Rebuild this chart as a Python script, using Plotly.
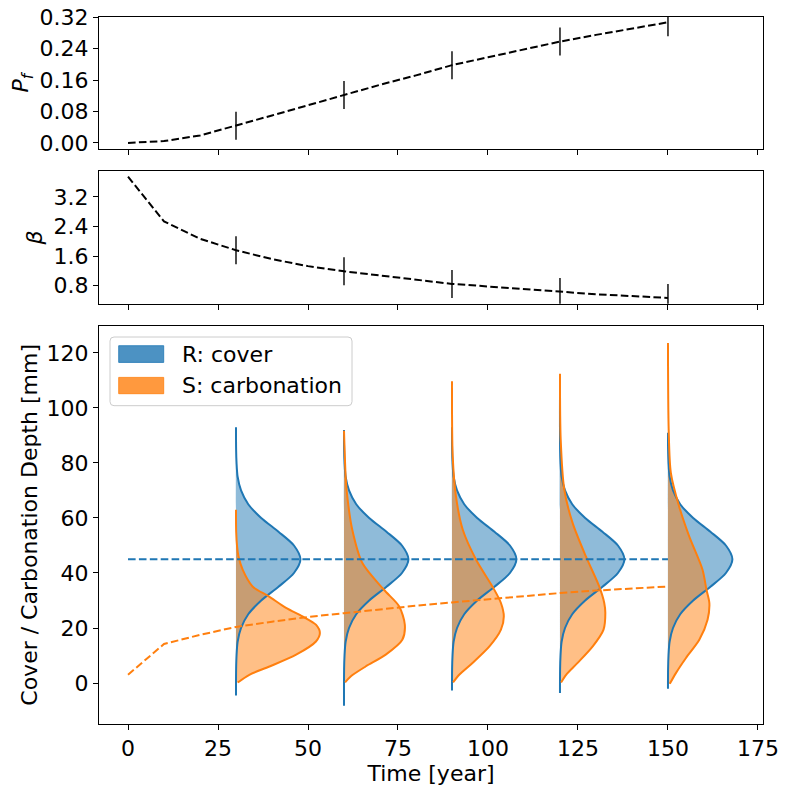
import plotly.graph_objects as go
from plotly.subplots import make_subplots

# ---------------- data ----------------
TIME = [0, 10, 20, 30, 40, 50, 60, 70, 80, 90, 100, 110, 120, 130, 140, 150]
PF = [0.0001, 0.005, 0.019, 0.044, 0.070, 0.096, 0.122, 0.148, 0.172, 0.198,
      0.218, 0.238, 0.258, 0.275, 0.291, 0.307]
BETA = [3.75, 2.54, 2.07, 1.76, 1.52, 1.33, 1.19, 1.07, 0.97, 0.85,
        0.78, 0.71, 0.63, 0.57, 0.52, 0.47]
R_MEAN = [45, 45, 45, 45, 45, 45, 45, 45, 45, 45, 45, 45, 45, 45, 45, 45]
S_MEAN = [3.0, 14.2, 17.5, 20.4, 22.3, 24.0, 25.4, 26.8, 28.1, 29.3,
          30.5, 31.6, 32.7, 33.6, 34.4, 35.1]

MARK_T = [30, 60, 90, 120, 150]

# R: cover density profile (depth [mm], scaled density width [year units])
R_Y = [5, 10, 15, 20, 25, 30, 35, 40, 45, 50, 55, 60, 65, 70, 75, 80, 85]
R_W = [0.03, 0.15, 0.45, 1.4, 3.4, 7.0, 11.8, 16.1, 17.9, 16.1, 11.8, 7.0,
       3.4, 1.4, 0.45, 0.15, 0.03]
R_BOTTOM = [-4.5, -8.3, -2.7, -3.6, -2.1]
R_TOP = [93, 92, 93, 106, 91]

# S: carbonation density profiles per time
S_Y = {
    30: [0.2, 3.0, 6.0, 10.3, 15.1, 18.2, 21.2, 24.2, 27.3, 31.5, 35.1, 41.2, 46.0, 49.7, 55.0, 63.0],
    60: [0.2, 2.4, 6.0, 10.3, 15.7, 21.2, 27.9, 33.9, 43.6, 55.7, 67.9, 74.0, 91.7],
    90: [0.2, 3.0, 7.3, 13.3, 19.4, 24.2, 29.1, 34.5, 44.8, 55.7, 67.9, 82.4, 109.7],
    120: [0.2, 3.0, 7.3, 13.3, 19.4, 25.5, 29.1, 35.1, 46.0, 58.2, 70.3, 88.5, 112.4],
    150: [-0.3, 3.6, 9.1, 15.7, 23.0, 29.1, 33.9, 41.2, 53.3, 64.2, 76.4, 92.1, 123.6],
}
S_W = {
    30: [0.5, 3.7, 9.3, 16.7, 22.2, 23.3, 22.2, 18.5, 13.9, 9.1, 4.6, 1.85, 0.7, 0.3, 0.05, 0.0],
    60: [0.3, 1.85, 6.0, 11.6, 16.2, 16.9, 15.3, 11.1, 5.1, 2.3, 0.9, 0.5, 0.0],
    90: [0.3, 2.0, 5.7, 10.4, 13.6, 14.4, 13.6, 11.5, 6.7, 3.0, 1.1, 0.2, 0.0],
    120: [0.3, 1.7, 4.9, 9.1, 12.1, 12.6, 12.3, 10.9, 7.2, 3.5, 1.2, 0.2, 0.0],
    150: [0.5, 2.2, 5.0, 8.7, 11.0, 11.5, 10.7, 9.6, 5.9, 3.1, 0.8, 0.2, 0.0],
}

X_TICKS = [0, 25, 50, 75, 100, 125, 150, 175]
PF_TICKS = [0.0, 0.08, 0.16, 0.24, 0.32]
BETA_TICKS = [0.8, 1.6, 2.4, 3.2]
DEPTH_TICKS = [0, 20, 40, 60, 80, 100, 120]

# ---------------- styling ----------------
BLUE = "#1f77b4"
ORANGE = "#ff7f0e"
BLUE_FILL = "rgba(31,119,180,0.5)"
ORANGE_FILL = "rgba(255,127,14,0.5)"
FONT = "DejaVu Sans"
FS = 22
DASH = "7.6px,3.3px"

W, H = 789, 789
L, R, T, B = 99.3, 25.7, 17.3, 64.7
PW, PH = W - L - R, H - T - B


def px_x(px):
    return (px - L) / PW


def px_y(py):
    return (H - B - py) / PH


fig = make_subplots(rows=3, cols=1, shared_xaxes=True)

MARKER = dict(symbol="line-ns", size=20, color="black", line=dict(width=1.4, color="black"))

# top: Pf
fig.add_trace(go.Scatter(x=TIME, y=PF, mode="lines",
                         line=dict(color="black", width=2, dash=DASH)), row=1, col=1)
fig.add_trace(go.Scatter(x=MARK_T, y=[PF[TIME.index(t)] for t in MARK_T], mode="markers",
                         marker=MARKER), row=1, col=1)
# middle: beta
fig.add_trace(go.Scatter(x=TIME, y=BETA, mode="lines",
                         line=dict(color="black", width=2, dash=DASH)), row=2, col=1)
fig.add_trace(go.Scatter(x=MARK_T, y=[BETA[TIME.index(t)] for t in MARK_T], mode="markers",
                         marker=MARKER), row=2, col=1)


def r_curve(k):
    ys = [R_BOTTOM[k]] + R_Y + [R_TOP[k]]
    ws = [0.0] + R_W + [0.0]
    return ys, ws


def s_curve(t):
    return S_Y[t], S_W[t]


# fills
for k, t in enumerate(MARK_T):
    ys, ws = r_curve(k)
    fig.add_trace(go.Scatter(x=[t + w for w in ws] + [t], y=ys + [ys[0]], mode="lines",
                             fill="toself", fillcolor=BLUE_FILL,
                             line=dict(width=0, shape="spline", smoothing=0.8)), row=3, col=1)
for t in MARK_T:
    ys, ws = s_curve(t)
    fig.add_trace(go.Scatter(x=[t + w for w in ws] + [t, t], y=ys + [ys[-1], ys[0]], mode="lines",
                             fill="toself", fillcolor=ORANGE_FILL,
                             line=dict(width=0, shape="spline", smoothing=0.8)), row=3, col=1)
# density lines
for k, t in enumerate(MARK_T):
    ys, ws = r_curve(k)
    fig.add_trace(go.Scatter(x=[t + w for w in ws], y=ys, mode="lines",
                             line=dict(color=BLUE, width=2, shape="spline", smoothing=0.8)),
                  row=3, col=1)
for t in MARK_T:
    ys, ws = s_curve(t)
    fig.add_trace(go.Scatter(x=[t + w for w in ws], y=ys, mode="lines",
                             line=dict(color=ORANGE, width=2, shape="spline", smoothing=0.8)),
                  row=3, col=1)
# mean lines
fig.add_trace(go.Scatter(x=TIME, y=R_MEAN, mode="lines",
                         line=dict(color=BLUE, width=2, dash=DASH)), row=3, col=1)
fig.add_trace(go.Scatter(x=TIME, y=S_MEAN, mode="lines",
                         line=dict(color=ORANGE, width=2, dash=DASH)), row=3, col=1)

axis_common = dict(showgrid=False, zeroline=False, showline=True, mirror=True,
                   linecolor="black", linewidth=1, ticks="outside", ticklen=5,
                   tickwidth=1, tickcolor="black", automargin=False,
                   tickfont=dict(family=FONT, size=FS, color="black"))

for i in (1, 2, 3):
    fig.update_xaxes(range=[-8.06, 176.4], tickvals=X_TICKS, ticktext=[str(v) for v in X_TICKS],
                     showticklabels=(i == 3), row=i, col=1, **axis_common)

fig.update_xaxes(title=dict(text="Time [year]", font=dict(family=FONT, size=FS, color="black"),
                            standoff=3), row=3, col=1)

fig.update_yaxes(range=[-0.0163, 0.3205], tickvals=PF_TICKS,
                 ticktext=["%.2f" % v for v in PF_TICKS],
                 title=dict(text="<i>P</i><sub><i>f</i></sub>",
                            font=dict(family=FONT, size=FS, color="black"), standoff=4),
                 row=1, col=1, **axis_common)
fig.update_yaxes(range=[0.314, 3.892], tickvals=BETA_TICKS,
                 ticktext=["%.1f" % v for v in BETA_TICKS],
                 title=dict(text="<i>β</i>", font=dict(family=FONT, size=FS, color="black"),
                            standoff=4),
                 row=2, col=1, **axis_common)
fig.update_yaxes(range=[-14.9, 129.9], tickvals=DEPTH_TICKS,
                 ticktext=[str(v) for v in DEPTH_TICKS],
                 title=dict(text="Cover / Carbonation Depth [mm]",
                            font=dict(family=FONT, size=FS, color="black"), standoff=2),
                 row=3, col=1, **axis_common)

fig.update_layout(
    yaxis=dict(domain=[px_y(149.7), 1.0]),
    yaxis2=dict(domain=[px_y(304.0), px_y(171.7)]),
    yaxis3=dict(domain=[0.0, px_y(326.0)]),
)

# legend drawn manually
bx0, bx1, by0, by1 = 110.3, 352.3, 337.3, 406.0
rad = 4.0
rx, ry = rad / PW, rad / PH
X0, X1, Y0, Y1 = px_x(bx0), px_x(bx1), px_y(by1), px_y(by0)
path = (f"M {X0+rx},{Y0} L {X1-rx},{Y0} Q {X1},{Y0} {X1},{Y0+ry} "
        f"L {X1},{Y1-ry} Q {X1},{Y1} {X1-rx},{Y1} L {X0+rx},{Y1} "
        f"Q {X0},{Y1} {X0},{Y1-ry} L {X0},{Y0+ry} Q {X0},{Y0} {X0+rx},{Y0} Z")
shapes = [dict(type="path", xref="paper", yref="paper", path=path,
               fillcolor="rgba(255,255,255,0.8)", line=dict(color="#cccccc", width=1))]
LEGEND_ITEMS = [("R: cover", "rgba(31,119,180,0.8)", 346.0, 362.7),
                ("S: carbonation", "rgba(255,127,14,0.8)", 377.7, 394.0)]
annotations = []
for label, col, y0p, y1p in LEGEND_ITEMS:
    shapes.append(dict(type="rect", xref="paper", yref="paper",
                       x0=px_x(119.0), x1=px_x(164.0), y0=px_y(y1p), y1=px_y(y0p),
                       fillcolor=col, line=dict(color=col, width=1)))
    annotations.append(dict(xref="paper", yref="paper", x=px_x(180.5), y=px_y((y0p + y1p) / 2),
                            text=label, showarrow=False, xanchor="left", yanchor="middle",
                            font=dict(family=FONT, size=FS, color="black")))

fig.update_layout(
    width=W, height=H, showlegend=False,
    margin=dict(l=L, r=R, t=T, b=B, pad=0, autoexpand=False),
    paper_bgcolor="white", plot_bgcolor="white",
    font=dict(family=FONT, size=FS, color="black"),
    shapes=shapes, annotations=annotations,
)

fig.write_html("out.html")
